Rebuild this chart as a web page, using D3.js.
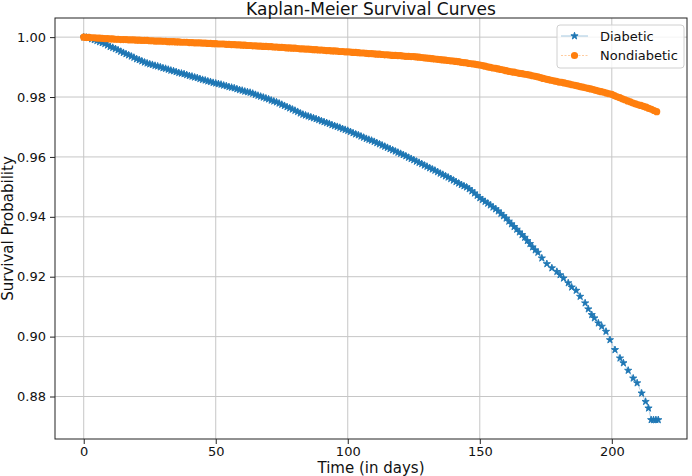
<!DOCTYPE html>
<html>
<head>
<meta charset="utf-8">
<script src="https://cdn.jsdelivr.net/npm/d3@7"></script>
<style>
  body { margin: 0; background: #fff; }
  text { font-family: "DejaVu Sans", sans-serif; fill: #111; }
</style>
</head>
<body>
<div id="plot"></div>
<script>
// Time points (days) and survival probabilities
var diabeticTime = d3.range(0, 172).concat([
    172, 173.5, 175.4, 177.3, 179.2, 180.4, 181.7, 183.5, 184.8, 186.5,
    188, 189.9, 191.1, 192.4, 193.4, 194.9, 196.2, 197.8, 199.3, 201.2,
    203.1, 204.4, 206.2, 208.1, 209.6, 211.3, 212.8, 213.9, 214.9, 215.8,
    216.7, 217.6]);

var diabeticSurv = [
    1.0000, 0.9999, 0.9998, 0.9994, 0.9991, 0.9988, 0.9984, 0.9981, 0.9978, 0.9973,
    0.9968, 0.9965, 0.9961, 0.9957, 0.9952, 0.9948, 0.9944, 0.9940, 0.9936, 0.9932,
    0.9927, 0.9924, 0.9920, 0.9916, 0.9913, 0.9910, 0.9908, 0.9905, 0.9903, 0.9900,
    0.9897, 0.9895, 0.9892, 0.9889, 0.9887, 0.9884, 0.9881, 0.9879, 0.9877, 0.9874,
    0.9871, 0.9869, 0.9866, 0.9864, 0.9861, 0.9858, 0.9856, 0.9853, 0.9851, 0.9848,
    0.9846, 0.9844, 0.9842, 0.9839, 0.9837, 0.9834, 0.9832, 0.9830, 0.9827, 0.9824,
    0.9822, 0.9819, 0.9817, 0.9815, 0.9812, 0.9808, 0.9805, 0.9802, 0.9799, 0.9796,
    0.9793, 0.9789, 0.9786, 0.9783, 0.9779, 0.9775, 0.9771, 0.9767, 0.9763, 0.9759,
    0.9755, 0.9751, 0.9746, 0.9742, 0.9739, 0.9736, 0.9733, 0.9730, 0.9727, 0.9724,
    0.9720, 0.9717, 0.9714, 0.9711, 0.9707, 0.9704, 0.9701, 0.9698, 0.9694, 0.9691,
    0.9688, 0.9684, 0.9680, 0.9676, 0.9673, 0.9669, 0.9665, 0.9661, 0.9658, 0.9655,
    0.9651, 0.9647, 0.9643, 0.9639, 0.9635, 0.9631, 0.9627, 0.9623, 0.9619, 0.9615,
    0.9611, 0.9607, 0.9603, 0.9598, 0.9594, 0.9590, 0.9585, 0.9581, 0.9577, 0.9572,
    0.9568, 0.9563, 0.9559, 0.9555, 0.9550, 0.9545, 0.9541, 0.9536, 0.9532, 0.9527,
    0.9522, 0.9517, 0.9512, 0.9507, 0.9503, 0.9499, 0.9493, 0.9486, 0.9479, 0.9471,
    0.9463, 0.9457, 0.9451, 0.9445, 0.9439, 0.9432, 0.9426, 0.9419, 0.9411, 0.9403,
    0.9395, 0.9385, 0.9376, 0.9367, 0.9358, 0.9349, 0.9340, 0.9331, 0.9320, 0.9310,
    0.9299, 0.9289,
    0.9281, 0.9262, 0.9243, 0.9229, 0.9217, 0.9206, 0.9195, 0.9179, 0.9165, 0.9154,
    0.9134, 0.9112, 0.9092, 0.9073, 0.9062, 0.9045, 0.9034, 0.9017, 0.8989, 0.8956,
    0.8928, 0.8912, 0.8887, 0.8861, 0.8845, 0.8811, 0.8783, 0.8761, 0.8722, 0.8722,
    0.8722, 0.8722];

var nondiabeticTime = d3.range(0, 218);

var nondiabeticSurv = [
    1.0000, 0.9999, 0.9999, 0.9998, 0.9998, 0.9997, 0.9997, 0.9996, 0.9995, 0.9995,
    0.9994, 0.9994, 0.9993, 0.9993, 0.9992, 0.9992, 0.9992, 0.9991, 0.9991, 0.9991,
    0.9990, 0.9990, 0.9989, 0.9989, 0.9989, 0.9988, 0.9988, 0.9987, 0.9987, 0.9987,
    0.9986, 0.9986, 0.9985, 0.9985, 0.9985, 0.9984, 0.9984, 0.9983, 0.9983, 0.9983,
    0.9982, 0.9982, 0.9981, 0.9981, 0.9981, 0.9980, 0.9980, 0.9979, 0.9979, 0.9978,
    0.9978, 0.9977, 0.9977, 0.9977, 0.9976, 0.9976, 0.9975, 0.9975, 0.9974, 0.9974,
    0.9973, 0.9973, 0.9972, 0.9972, 0.9971, 0.9971, 0.9970, 0.9970, 0.9969, 0.9969,
    0.9968, 0.9968, 0.9967, 0.9967, 0.9966, 0.9966, 0.9965, 0.9964, 0.9964, 0.9963,
    0.9963, 0.9962, 0.9961, 0.9961, 0.9960, 0.9960, 0.9959, 0.9958, 0.9958, 0.9957,
    0.9957, 0.9956, 0.9955, 0.9955, 0.9954, 0.9954, 0.9953, 0.9952, 0.9952, 0.9951,
    0.9951, 0.9950, 0.9949, 0.9949, 0.9948, 0.9947, 0.9947, 0.9946, 0.9945, 0.9945,
    0.9944, 0.9943, 0.9943, 0.9942, 0.9941, 0.9941, 0.9940, 0.9939, 0.9939, 0.9938,
    0.9938, 0.9937, 0.9936, 0.9936, 0.9935, 0.9935, 0.9934, 0.9933, 0.9932, 0.9931,
    0.9930, 0.9929, 0.9928, 0.9927, 0.9926, 0.9925, 0.9924, 0.9923, 0.9922, 0.9921,
    0.9920, 0.9919, 0.9918, 0.9916, 0.9915, 0.9914, 0.9912, 0.9911, 0.9910, 0.9908,
    0.9907, 0.9905, 0.9903, 0.9901, 0.9899, 0.9897, 0.9896, 0.9894, 0.9892, 0.9890,
    0.9888, 0.9886, 0.9884, 0.9883, 0.9881, 0.9879, 0.9878, 0.9876, 0.9875, 0.9873,
    0.9871, 0.9869, 0.9867, 0.9865, 0.9862, 0.9860, 0.9858, 0.9856, 0.9854, 0.9852,
    0.9850, 0.9849, 0.9847, 0.9845, 0.9843, 0.9841, 0.9839, 0.9837, 0.9835, 0.9833,
    0.9831, 0.9829, 0.9827, 0.9825, 0.9822, 0.9820, 0.9818, 0.9816, 0.9813, 0.9811,
    0.9809, 0.9805, 0.9801, 0.9798, 0.9794, 0.9791, 0.9787, 0.9784, 0.9780, 0.9777,
    0.9774, 0.9772, 0.9769, 0.9766, 0.9762, 0.9759, 0.9755, 0.9751];

var seriesNames = ["Diabetic", "Nondiabetic"];
var seriesColors = ["#1f77b4", "#ff7f0e"];
var xTicks = [0, 50, 100, 150, 200];
var yTicks = [0.88, 0.90, 0.92, 0.94, 0.96, 0.98, 1.00];

var series = [
    { name: seriesNames[0], color: seriesColors[0], star: true,
      pts: diabeticTime.map(function(t, i) { return { x: t, y: diabeticSurv[i] }; }) },
    { name: seriesNames[1], color: seriesColors[1], star: false,
      pts: nondiabeticTime.map(function(t, i) { return { x: t, y: nondiabeticSurv[i] }; }) }
];

var W = 692, H = 476;
var plot = { left: 55, right: 687, top: 18, bottom: 439 };

// matplotlib style 5% padding around the data
var allPts = series[0].pts.concat(series[1].pts);
var xExt = d3.extent(allPts, function(d) { return d.x; });
var yExt = d3.extent(allPts, function(d) { return d.y; });
var xPad = (xExt[1] - xExt[0]) * 0.05,
    yPad = (yExt[1] - yExt[0]) * 0.05;

var xScale = d3.scaleLinear()
    .domain([xExt[0] - xPad, xExt[1] + xPad])
    .range([plot.left, plot.right]);

var yScale = d3.scaleLinear()
    .domain([yExt[0] - yPad, yExt[1] + yPad])
    .range([plot.bottom, plot.top]);

var svg = d3.select("#plot").append("svg")
    .attr("width", W)
    .attr("height", H);

svg.append("rect").attr("width", W).attr("height", H).attr("fill", "#fff");

// grid
svg.append("g").selectAll("line")
    .data(xTicks).enter().append("line")
    .attr("x1", function(d) { return xScale(d); })
    .attr("x2", function(d) { return xScale(d); })
    .attr("y1", plot.top).attr("y2", plot.bottom)
    .attr("stroke", "#c6c6c6").attr("stroke-width", 1);

svg.append("g").selectAll("line")
    .data(yTicks).enter().append("line")
    .attr("y1", function(d) { return yScale(d); })
    .attr("y2", function(d) { return yScale(d); })
    .attr("x1", plot.left).attr("x2", plot.right)
    .attr("stroke", "#c6c6c6").attr("stroke-width", 1);

// axes
var xAxis = d3.axisBottom(xScale).tickValues(xTicks).tickSize(5).tickPadding(3).tickSizeOuter(0);
var yAxis = d3.axisLeft(yScale).tickValues(yTicks).tickFormat(d3.format(".2f")).tickSize(5).tickPadding(4).tickSizeOuter(0);

var gx = svg.append("g").attr("transform", "translate(0," + plot.bottom + ")").call(xAxis);
var gy = svg.append("g").attr("transform", "translate(" + plot.left + ",0)").call(yAxis);
[gx, gy].forEach(function(g) {
    g.select(".domain").remove();
    g.selectAll(".tick line").attr("stroke", "#222");
    g.selectAll(".tick text").style("font-size", "13px").style("fill", "#111")
        .style("font-family", "DejaVu Sans, sans-serif");
});

// series
var line = d3.line()
    .x(function(d) { return xScale(d.x); })
    .y(function(d) { return yScale(d.y); });

var star = d3.symbol().type(d3.symbolStar).size(16);

series.forEach(function(s) {
    svg.append("path")
        .datum(s.pts)
        .attr("d", line)
        .attr("fill", "none")
        .attr("stroke", s.color)
        .attr("stroke-width", 0.6)
        .attr("stroke-opacity", 0.5)
        .attr("stroke-dasharray", s.star ? null : "2,1.5");

    var g = svg.append("g");
    if (s.star) {
        g.selectAll("path").data(s.pts).enter().append("path")
            .attr("d", star)
            .attr("transform", function(d) { return "translate(" + xScale(d.x) + "," + yScale(d.y) + ")"; })
            .attr("fill", s.color)
            .attr("stroke", s.color)
            .attr("stroke-width", 0.9)
            .attr("stroke-linejoin", "round");
    } else {
        g.selectAll("circle").data(s.pts).enter().append("circle")
            .attr("cx", function(d) { return xScale(d.x); })
            .attr("cy", function(d) { return yScale(d.y); })
            .attr("r", 3.6)
            .attr("fill", s.color);
    }
});

// frame
svg.append("rect")
    .attr("x", plot.left).attr("y", plot.top)
    .attr("width", plot.right - plot.left).attr("height", plot.bottom - plot.top)
    .attr("fill", "none").attr("stroke", "#222").attr("stroke-width", 1);

// title and labels
svg.append("text")
    .attr("x", (plot.left + plot.right) / 2).attr("y", 15)
    .attr("text-anchor", "middle")
    .style("font-size", "17px")
    .text("Kaplan-Meier Survival Curves");

svg.append("text")
    .attr("x", (plot.left + plot.right) / 2).attr("y", 473)
    .attr("text-anchor", "middle")
    .style("font-size", "15px")
    .text("Time (in days)");

svg.append("text")
    .attr("transform", "translate(13," + (plot.top + plot.bottom) / 2 + ") rotate(-90)")
    .attr("text-anchor", "middle")
    .style("font-size", "15px")
    .text("Survival Probability");

// legend
var legend = svg.append("g").attr("transform", "translate(557,25)");
legend.append("rect")
    .attr("width", 127).attr("height", 43).attr("rx", 3)
    .attr("fill", "#fff").attr("fill-opacity", 0.8)
    .attr("stroke", "#d0d0d0").attr("stroke-width", 1);

series.forEach(function(s, i) {
    var row = legend.append("g").attr("transform", "translate(0," + (11 + i * 19.5) + ")");
    row.append("line")
        .attr("x1", 4).attr("x2", 31)
        .attr("stroke", s.color).attr("stroke-width", 0.8).attr("stroke-opacity", 0.5)
        .attr("stroke-dasharray", s.star ? null : "2,1.5");
    if (s.star) {
        row.append("path").attr("d", star).attr("transform", "translate(17.5,0)")
            .attr("fill", s.color).attr("stroke", s.color).attr("stroke-width", 0.9)
            .attr("stroke-linejoin", "round");
    } else {
        row.append("circle").attr("cx", 17.5).attr("r", 3.6).attr("fill", s.color);
    }
    row.append("text")
        .attr("x", 43).attr("dy", "0.35em")
        .style("font-size", "13px")
        .text(s.name);
});
</script>
</body>
</html>
